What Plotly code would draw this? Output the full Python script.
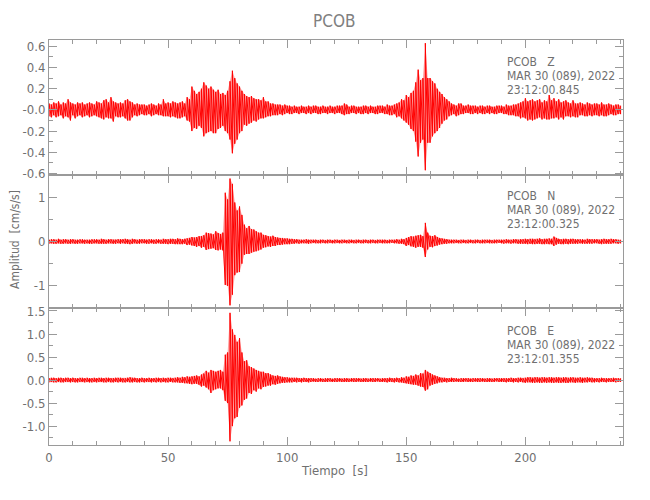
import plotly.graph_objects as go

STATION = "PCOB"
DATE_LABEL = "MAR 30 (089), 2022"
COMPONENTS = ["Z", "N", "E"]
START_TIMES = ["23:12:00.845", "23:12:00.325", "23:12:01.355"]
SAMPLE_STEP = 1.0  # s, one max/min pair per second

# per-second maximum and minimum of each trace (cm/s/s)
Z_HI = [
    .06, .05, .07, .06, .08, .05, .07, .06, .10, .07,
    .06, .05, .07, .06, .07, .05, .06, .07, .06, .05,
    .08, .07, .06, .09, .10, .07, .12, .08, .07, .06,
    .07, .06, .09, .10, .08, .07, .05, .06, .05, .05,
    .05, .04, .05, .06, .05, .04, .06, .05, .10, .06,
    .07, .06, .08, .07, .06, .07, .08, .06, .12, .10,
    .22, .18, .15, .17, .20, .26, .23, .20, .22, .19,
    .17, .19, .15, .16, .14, .18, .27, .37, .30, .25,
    .22, .18, .15, .13, .12, .13, .11, .10, .10, .09,
    .12, .08, .08, .06, .06, .05, .05, .05, .04, .05,
    .04, .04, .03, .04, .03, .03, .04, .03, .03, .04,
    .03, .04, .04, .03, .03, .04, .03, .03, .04, .03,
    .03, .04, .04, .04, .06, .05, .03, .04, .04, .03,
    .03, .03, .04, .04, .03, .04, .03, .03, .04, .04,
    .04, .03, .05, .04, .04, .05, .06, .07, .10, .09,
    .14, .12, .16, .18, .26, .38, .28, .30, .63, .30,
    .30, .27, .25, .20, .17, .15, .12, .10, .08, .06,
    .05, .04, .06, .06, .04, .04, .05, .04, .04, .04,
    .03, .04, .04, .03, .04, .04, .03, .03, .04, .04,
    .04, .03, .05, .04, .04, .05, .05, .06, .07, .08,
    .11, .08, .09, .10, .08, .09, .10, .07, .09, .08,
    .14, .09, .11, .08, .10, .07, .08, .09, .07, .06,
    .09, .06, .06, .07, .06, .05, .07, .06, .05, .06,
    .06, .05, .07, .05, .05, .06, .05, .04, .05, .05,
    .04,
]
Z_LO = [
    -.06, -.07, -.05, -.07, -.06, -.05, -.08, -.06, -.07, -.10,
    -.05, -.08, -.06, -.05, -.07, -.06, -.05, -.07, -.06, -.05,
    -.06, -.07, -.08, -.09, -.07, -.08, -.08, -.11, -.06, -.07,
    -.07, -.06, -.08, -.10, -.10, -.07, -.05, -.06, -.05, -.04,
    -.05, -.05, -.04, -.06, -.05, -.04, -.05, -.05, -.06, -.06,
    -.06, -.07, -.06, -.07, -.08, -.08, -.07, -.06, -.10, -.11,
    -.20, -.17, -.18, -.15, -.17, -.25, -.22, -.21, -.20, -.22,
    -.22, -.18, -.17, -.15, -.20, -.22, -.28, -.41, -.32, -.28,
    -.22, -.20, -.14, -.15, -.13, -.12, -.10, -.11, -.09, -.08,
    -.08, -.07, -.06, -.06, -.05, -.05, -.05, -.04, -.05, -.04,
    -.03, -.04, -.04, -.03, -.03, -.04, -.03, -.03, -.04, -.03,
    -.04, -.03, -.03, -.04, -.04, -.03, -.03, -.04, -.03, -.03,
    -.04, -.03, -.03, -.04, -.05, -.04, -.04, -.03, -.03, -.04,
    -.03, -.04, -.04, -.03, -.04, -.03, -.03, -.04, -.04, -.03,
    -.03, -.04, -.04, -.05, -.05, -.04, -.07, -.06, -.08, -.10,
    -.12, -.14, -.18, -.20, -.30, -.44, -.31, -.28, -.57, -.31,
    -.31, -.25, -.22, -.20, -.17, -.13, -.10, -.09, -.06, -.05,
    -.04, -.06, -.05, -.04, -.04, -.03, -.03, -.04, -.04, -.03,
    -.04, -.03, -.04, -.04, -.03, -.04, -.03, -.04, -.04, -.03,
    -.03, -.04, -.04, -.05, -.05, -.05, -.06, -.06, -.08, -.07,
    -.08, -.10, -.09, -.10, -.09, -.08, -.07, -.09, -.08, -.09,
    -.09, -.08, -.08, -.07, -.09, -.07, -.09, -.06, -.06, -.07,
    -.06, -.07, -.07, -.05, -.05, -.06, -.06, -.05, -.06, -.05,
    -.05, -.06, -.05, -.06, -.06, -.05, -.04, -.05, -.05, -.04,
    -.04,
]

N_HI = [
    .04, .05, .05, .04, .06, .04, .05, .05, .04, .05,
    .05, .04, .04, .05, .05, .04, .04, .04, .05, .05,
    .05, .04, .06, .05, .04, .05, .05, .04, .04, .05,
    .05, .05, .06, .05, .04, .06, .05, .04, .05, .05,
    .05, .04, .05, .05, .04, .05, .05, .04, .06, .05,
    .05, .06, .06, .05, .07, .06, .05, .06, .07, .08,
    .10, .09, .10, .12, .12, .14, .20, .19, .18, .16,
    .23, .19, .17, .20, 1.10, .95, 1.42, 1.30, .88, .70,
    .79, .60, .38, .30, .35, .28, .27, .23, .20, .20,
    .15, .14, .12, .11, .13, .10, .09, .08, .08, .07,
    .07, .06, .06, .05, .05, .04, .04, .04, .05, .04,
    .04, .04, .04, .03, .04, .04, .03, .04, .04, .03,
    .04, .04, .03, .04, .04, .03, .04, .04, .03, .04,
    .04, .03, .04, .04, .03, .04, .04, .03, .04, .04,
    .04, .04, .03, .04, .04, .04, .05, .04, .06, .05,
    .08, .10, .12, .11, .13, .14, .15, .12, .42, .20,
    .13, .12, .14, .10, .08, .07, .06, .05, .04, .04,
    .04, .04, .03, .04, .04, .03, .04, .04, .03, .04,
    .04, .03, .04, .04, .04, .04, .03, .04, .04, .04,
    .04, .04, .05, .04, .04, .05, .05, .04, .05, .05,
    .06, .05, .06, .06, .05, .06, .07, .05, .06, .06,
    .07, .06, .11, .08, .06, .05, .06, .06, .05, .06,
    .06, .05, .05, .05, .05, .04, .06, .05, .05, .05,
    .05, .04, .05, .06, .05, .05, .06, .05, .05, .04,
    .04,
]
N_LO = [
    -.05, -.04, -.05, -.05, -.04, -.05, -.05, -.04, -.05, -.05,
    -.04, -.05, -.05, -.04, -.04, -.05, -.04, -.05, -.05, -.04,
    -.04, -.05, -.05, -.05, -.05, -.04, -.04, -.05, -.05, -.04,
    -.05, -.04, -.05, -.05, -.06, -.05, -.04, -.05, -.05, -.04,
    -.04, -.05, -.05, -.04, -.05, -.05, -.04, -.05, -.05, -.05,
    -.06, -.05, -.05, -.06, -.06, -.06, -.06, -.05, -.08, -.07,
    -.09, -.10, -.12, -.10, -.14, -.12, -.19, -.17, -.16, -.15,
    -.19, -.20, -.18, -.20, -.98, -1.00, -1.44, -1.20, -.76, -.70,
    -.69, -.50, -.30, -.28, -.28, -.25, -.23, -.22, -.20, -.18,
    -.14, -.13, -.11, -.12, -.10, -.10, -.08, -.08, -.07, -.06,
    -.06, -.06, -.05, -.05, -.04, -.05, -.04, -.04, -.04, -.05,
    -.04, -.03, -.04, -.04, -.04, -.03, -.04, -.04, -.03, -.04,
    -.04, -.03, -.04, -.04, -.03, -.04, -.04, -.03, -.04, -.04,
    -.03, -.04, -.04, -.03, -.04, -.04, -.03, -.04, -.04, -.03,
    -.04, -.04, -.04, -.04, -.03, -.04, -.04, -.05, -.05, -.06,
    -.10, -.08, -.11, -.12, -.14, -.12, -.12, -.14, -.35, -.18,
    -.12, -.13, -.10, -.09, -.07, -.06, -.05, -.05, -.04, -.04,
    -.04, -.03, -.04, -.04, -.03, -.04, -.04, -.03, -.04, -.04,
    -.03, -.04, -.04, -.04, -.03, -.04, -.04, -.04, -.04, -.03,
    -.04, -.05, -.04, -.04, -.05, -.04, -.04, -.05, -.05, -.05,
    -.05, -.06, -.05, -.06, -.06, -.05, -.05, -.06, -.06, -.05,
    -.06, -.06, -.10, -.07, -.05, -.06, -.06, -.05, -.06, -.05,
    -.05, -.05, -.05, -.04, -.05, -.05, -.05, -.05, -.05, -.04,
    -.04, -.05, -.06, -.05, -.05, -.05, -.05, -.04, -.04, -.05,
    -.04,
]

E_HI = [
    .04, .05, .05, .04, .05, .05, .04, .05, .05, .04,
    .05, .04, .04, .05, .05, .04, .05, .04, .04, .05,
    .04, .05, .05, .04, .05, .05, .04, .04, .05, .05,
    .05, .04, .04, .05, .06, .05, .05, .04, .04, .05,
    .04, .04, .05, .04, .04, .05, .05, .04, .05, .04,
    .05, .05, .04, .05, .06, .05, .07, .06, .08, .07,
    .08, .09, .10, .08, .12, .14, .20, .16, .22, .20,
    .18, .20, .22, .18, .55, .60, 1.46, 1.10, .98, .83,
    .91, .60, .41, .43, .30, .28, .25, .22, .20, .18,
    .18, .15, .15, .12, .10, .09, .10, .08, .07, .06,
    .06, .05, .05, .05, .05, .04, .04, .05, .04, .04,
    .04, .04, .03, .04, .04, .03, .04, .04, .04, .03,
    .04, .04, .04, .03, .04, .04, .03, .04, .04, .04,
    .04, .03, .04, .04, .03, .04, .04, .04, .04, .03,
    .04, .04, .04, .05, .04, .04, .05, .04, .06, .05,
    .08, .07, .10, .09, .12, .10, .15, .14, .22, .18,
    .15, .12, .10, .08, .06, .05, .05, .04, .04, .05,
    .04, .04, .03, .04, .04, .04, .04, .03, .04, .04,
    .04, .04, .04, .03, .04, .04, .03, .04, .04, .04,
    .04, .04, .04, .04, .05, .04, .04, .05, .05, .04,
    .05, .06, .06, .05, .06, .06, .05, .06, .06, .05,
    .06, .06, .05, .06, .06, .05, .06, .06, .05, .06,
    .06, .05, .05, .06, .05, .05, .06, .05, .05, .04,
    .04, .04, .05, .04, .04, .04, .04, .05, .04, .04,
    .04,
]
E_LO = [
    -.05, -.04, -.05, -.05, -.04, -.05, -.05, -.04, -.04, -.05,
    -.04, -.05, -.05, -.04, -.04, -.05, -.04, -.05, -.05, -.04,
    -.05, -.04, -.04, -.05, -.05, -.04, -.05, -.05, -.04, -.05,
    -.04, -.05, -.05, -.04, -.05, -.05, -.04, -.05, -.05, -.04,
    -.05, -.04, -.04, -.05, -.04, -.05, -.04, -.05, -.04, -.05,
    -.05, -.04, -.05, -.05, -.05, -.06, -.06, -.07, -.07, -.08,
    -.09, -.08, -.08, -.10, -.14, -.12, -.16, -.20, -.28, -.22,
    -.20, -.18, -.18, -.22, -.45, -.50, -1.33, -1.00, -.83, -.80,
    -.60, -.55, -.43, -.40, -.28, -.30, -.22, -.25, -.18, -.20,
    -.15, -.14, -.12, -.12, -.09, -.10, -.08, -.07, -.06, -.06,
    -.05, -.05, -.05, -.04, -.05, -.04, -.05, -.04, -.04, -.05,
    -.04, -.03, -.04, -.04, -.03, -.04, -.04, -.04, -.03, -.04,
    -.04, -.04, -.03, -.04, -.04, -.04, -.04, -.03, -.04, -.04,
    -.03, -.04, -.04, -.04, -.04, -.03, -.04, -.04, -.03, -.04,
    -.04, -.04, -.05, -.04, -.04, -.05, -.04, -.05, -.05, -.06,
    -.07, -.08, -.09, -.10, -.10, -.12, -.14, -.15, -.23, -.20,
    -.12, -.10, -.08, -.07, -.05, -.05, -.04, -.05, -.04, -.04,
    -.04, -.03, -.04, -.04, -.04, -.03, -.04, -.04, -.04, -.03,
    -.04, -.04, -.03, -.04, -.04, -.04, -.04, -.04, -.03, -.04,
    -.04, -.04, -.05, -.04, -.04, -.05, -.04, -.05, -.04, -.05,
    -.06, -.05, -.05, -.06, -.06, -.05, -.06, -.06, -.05, -.06,
    -.05, -.06, -.06, -.05, -.06, -.06, -.05, -.06, -.06, -.05,
    -.05, -.06, -.05, -.05, -.06, -.05, -.05, -.04, -.05, -.05,
    -.04, -.05, -.04, -.04, -.05, -.04, -.04, -.04, -.05, -.04,
    -.04,
]

Z_TICKS = [-0.6, -0.4, -0.2, 0.0, 0.2, 0.4, 0.6]
Z_TICK_TEXT = ["-0.6", "-0.4", "-0.2", "-0.0", "0.2", "0.4", "0.6"]
N_TICKS = [-1, 0, 1]
N_TICK_TEXT = ["-1", "0", "1"]
E_TICKS = [-1.0, -0.5, 0.0, 0.5, 1.0, 1.5]
E_TICK_TEXT = ["-1.0", "-0.5", "0.0", "0.5", "1.0", "1.5"]
X_TICKS = [0, 50, 100, 150, 200]

# window geometry; the page body adds an 8px margin around the figure div
W, H = 650, 500
OFF = 8
PLOT_L, PLOT_R, PLOT_T, PLOT_B = 49, 623, 40, 445
L = PLOT_L - OFF
T = PLOT_T - OFF
R = W - L - (PLOT_R - PLOT_L)
B = H - T - (PLOT_B - PLOT_T)

FONT = "Liberation Sans Narrow, DejaVu Sans Condensed, Roboto, sans-serif"
TEXT_GREY = "#707070"
AXIS_GREY = "#9a9a9a"

PANELS = [(40, 175), (175, 308), (308, 445)]
Y_RANGES = [[-0.615, 0.66], [-1.5, 1.5], [-1.41, 1.565]]
Y_MINOR = [0.1, 0.5, 0.25]
Y_TICKS = [(Z_TICKS, Z_TICK_TEXT), (N_TICKS, N_TICK_TEXT), (E_TICKS, E_TICK_TEXT)]
SERIES = [(Z_HI, Z_LO), (N_HI, N_LO), (E_HI, E_LO)]


def py(ypx):
    # window pixel row -> paper fraction
    return (PLOT_B - ypx) / (PLOT_B - PLOT_T)


def px(xpx):
    return (xpx - PLOT_L) / (PLOT_R - PLOT_L)


fig = go.Figure()

for i, (hi, lo) in enumerate(SERIES):
    n = i + 1
    xa = f"x{n}" if n > 1 else "x"
    ya = f"y{n}" if n > 1 else "y"
    t = [k * SAMPLE_STEP for k in range(len(hi))]

    # faint band between the extremes, like the antialiased overlap of many swings
    fig.add_trace(go.Scatter(
        x=t + t[::-1], y=list(hi) + list(lo)[::-1], mode="lines",
        fill="toself", fillcolor="rgba(255,0,0,0.35)", line=dict(width=0),
        xaxis=xa, yaxis=ya, showlegend=False, hoverinfo="skip",
    ))

    # min -> max column per sample, joined to the next column's min
    xs, ys = [], []
    for tk, a, b in zip(t, lo, hi):
        xs += [tk, tk]
        ys += [a, b]
    fig.add_trace(go.Scatter(
        x=xs, y=ys, mode="lines",
        line=dict(color="#ff0000", width=1),
        xaxis=xa, yaxis=ya, showlegend=False, hoverinfo="skip",
    ))

layout = dict(
    width=W, height=H,
    margin=dict(l=L, r=R, t=T, b=B, autoexpand=False),
    paper_bgcolor="white", plot_bgcolor="white",
    font=dict(family=FONT, color=TEXT_GREY, size=13),
    showlegend=False,
)

for i in range(3):
    n = i + 1
    top, bot = PANELS[i]
    xkey = "xaxis" if n == 1 else f"xaxis{n}"
    ykey = "yaxis" if n == 1 else f"yaxis{n}"
    layout[xkey] = dict(
        domain=[0, 1], range=[0, 241], anchor="y" if n == 1 else f"y{n}",
        tickvals=X_TICKS, showticklabels=(n == 3),
        ticks="inside", ticklen=8, tickcolor=AXIS_GREY, tickwidth=1,
        minor=dict(dtick=10, tick0=0, ticks="inside", ticklen=4, tickcolor=AXIS_GREY),
        showline=True, linecolor=AXIS_GREY, linewidth=1, mirror="ticks",
        showgrid=False, zeroline=False,
        tickfont=dict(size=13, color=TEXT_GREY),
    )
    if n > 1:
        layout[xkey]["matches"] = "x"
    vals, text = Y_TICKS[i]
    layout[ykey] = dict(
        domain=[py(bot), py(top)], range=Y_RANGES[i],
        anchor="x" if n == 1 else f"x{n}",
        tickvals=vals, ticktext=text,
        ticks="inside", ticklen=8, tickcolor=AXIS_GREY, tickwidth=1,
        minor=dict(dtick=Y_MINOR[i], tick0=0, ticks="inside", ticklen=4, tickcolor=AXIS_GREY),
        showline=True, linecolor=AXIS_GREY, linewidth=1, mirror="ticks",
        showgrid=False, zeroline=False,
        tickfont=dict(size=13, color=TEXT_GREY),
    )

fig.update_layout(**layout)

annotations = []
header_rows = [(61.7, 75.7, 90.0), (195.7, 209.7, 223.7), (331.0, 345.0, 359.0)]
for comp, start, rows in zip(COMPONENTS, START_TIMES, header_rows):
    lines = [f"{STATION}\u00a0\u00a0\u00a0{comp}", DATE_LABEL, start]
    for txt, ypx in zip(lines, rows):
        annotations.append(dict(
            text=txt, xref="paper", yref="paper", x=px(505), y=py(ypx),
            xanchor="left", yanchor="middle", showarrow=False,
            font=dict(size=12, color=TEXT_GREY),
        ))

annotations.append(dict(
    text=STATION, xref="paper", yref="paper", x=px(334), y=py(21),
    xanchor="center", yanchor="middle", showarrow=False,
    font=dict(size=17, color="#808080"),
))
annotations.append(dict(
    text="Amplitud\u00a0\u00a0[cm/s/s]", xref="paper", yref="paper",
    x=px(15), y=py(240), xanchor="center", yanchor="middle",
    textangle=-90, showarrow=False, font=dict(size=12, color=TEXT_GREY),
))
annotations.append(dict(
    text="Tiempo\u00a0\u00a0[s]", xref="paper", yref="paper",
    x=px(334), y=py(470), xanchor="center", yanchor="middle",
    showarrow=False, font=dict(size=13, color=TEXT_GREY),
))
fig.update_layout(annotations=annotations)

fig.write_html("out.html")
